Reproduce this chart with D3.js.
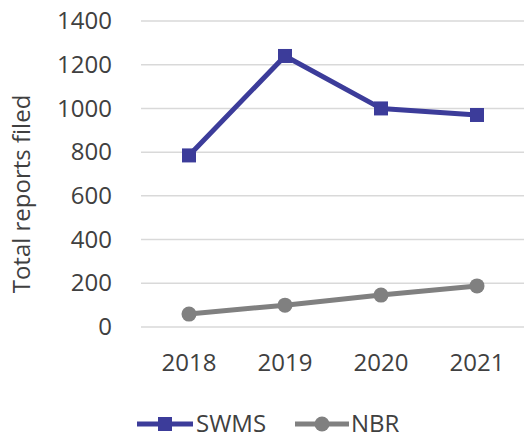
<!DOCTYPE html>
<html>
<head>
<meta charset="utf-8">
<script src="https://cdn.jsdelivr.net/npm/d3@7"></script>
<style>
  body { margin: 0; background: #fff; }
  text { font-family: "Open Sans", "Noto Sans", sans-serif; fill: #404040; }
</style>
</head>
<body>
<script>
// Chart data
const years = ['2018', '2019', '2020', '2021'];
const swms = [785, 1240, 1000, 970];
const nbr = [59, 100, 146, 188];
const yTicks = [0, 200, 400, 600, 800, 1000, 1200, 1400];

const series = [
  { name: 'SWMS', values: swms, color: '#3c3c9a', marker: 'square' },
  { name: 'NBR', values: nbr, color: '#808080', marker: 'circle' }
];

const W = 524, H = 443;
const FS = 24;
const svg = d3.select('body').append('svg')
  .attr('width', W)
  .attr('height', H);

const x = d3.scaleBand().domain(years).range([141, 525]);
const y = d3.scaleLinear().domain([0, 1400]).range([327, 21]);

// gridlines
svg.append('g')
  .selectAll('line')
  .data(yTicks)
  .enter()
  .append('line')
  .attr('x1', 141)
  .attr('x2', 524)
  .attr('y1', d => y(d))
  .attr('y2', d => y(d))
  .attr('stroke', '#d9d9d9')
  .attr('stroke-width', 1.5);

// y axis labels
const yAxis = svg.append('g')
  .attr('transform', 'translate(112,0)')
  .call(d3.axisLeft(y).tickValues(yTicks).tickFormat(d3.format('d')).tickSize(0).tickPadding(0));
yAxis.select('.domain').remove();
yAxis.attr('font-size', null).attr('font-family', null);
yAxis.selectAll('text')
  .style('font-size', FS + 'px')
  .attr('fill', '#404040');

// x axis labels
const xAxis = svg.append('g')
  .attr('transform', 'translate(0,354)')
  .call(d3.axisBottom(x).tickSize(0).tickPadding(0));
xAxis.select('.domain').remove();
xAxis.attr('font-size', null).attr('font-family', null);
xAxis.selectAll('text')
  .style('font-size', FS + 'px')
  .attr('fill', '#404040');

// axis title
svg.append('text')
  .attr('transform', 'translate(22,194) rotate(-90)')
  .attr('text-anchor', 'middle')
  .attr('dy', '0.35em')
  .style('font-size', FS + 'px')
  .text('Total reports filed');

const line = d3.line()
  .x((d, i) => x(years[i]) + x.bandwidth() / 2)
  .y(d => y(d));

function drawMarker(g, s, cx, cy, size) {
  if (s.marker === 'square') {
    g.append('rect')
      .attr('x', cx - size / 2)
      .attr('y', cy - size / 2)
      .attr('width', size)
      .attr('height', size)
      .attr('fill', s.color);
  } else {
    g.append('circle')
      .attr('cx', cx)
      .attr('cy', cy)
      .attr('r', size / 2)
      .attr('fill', s.color);
  }
}

series.forEach(s => {
  const g = svg.append('g');
  g.append('path')
    .datum(s.values)
    .attr('d', line)
    .attr('fill', 'none')
    .attr('stroke', s.color)
    .attr('stroke-width', 5)
    .attr('stroke-linejoin', 'round');
  s.values.forEach((v, i) => {
    drawMarker(g, s, x(years[i]) + x.bandwidth() / 2, y(v), s.marker === 'square' ? 14 : 15);
  });
});

// legend
const legendPos = [
  { x1: 137, x2: 193, tx: 196 },
  { x1: 295, x2: 349, tx: 351 }
];
const ly = 424;
series.forEach((s, i) => {
  const p = legendPos[i];
  const g = svg.append('g');
  g.append('line')
    .attr('x1', p.x1).attr('x2', p.x2)
    .attr('y1', ly).attr('y2', ly)
    .attr('stroke', s.color)
    .attr('stroke-width', 5);
  drawMarker(g, s, (p.x1 + p.x2) / 2, ly, s.marker === 'square' ? 14 : 15);
  g.append('text')
    .attr('x', p.tx)
    .attr('y', ly)
    .attr('dy', '0.35em')
    .style('font-size', FS + 'px')
    .text(s.name);
});
</script>
</body>
</html>
